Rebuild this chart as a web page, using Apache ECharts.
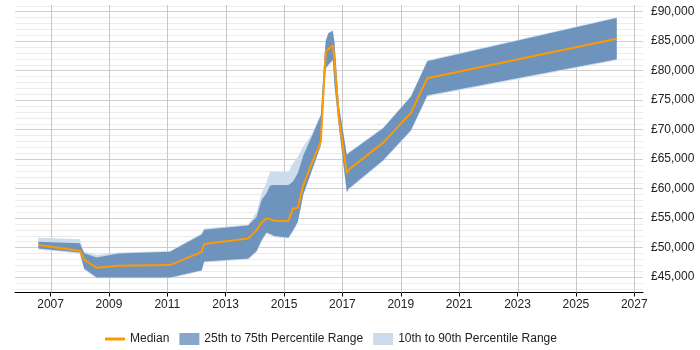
<!DOCTYPE html>
<html>
<head>
<meta charset="utf-8">
<script src="https://cdn.jsdelivr.net/npm/echarts@6/dist/echarts.min.js"></script>
<style>
  html, body { margin: 0; padding: 0; background: #fff; }
  #chart { width: 700px; height: 350px; }
</style>
</head>
<body>
<div id="chart"></div>
<script>
// sample dates (decimal years)
const years = [2006.58, 2008.00, 2008.15, 2008.58, 2009.32, 2011.09, 2012.18, 2012.26, 2013.77, 2014.06,
  2014.23, 2014.40, 2014.52, 2014.67, 2015.15, 2015.30, 2015.47, 2015.66, 2015.95, 2016.26,
  2016.38, 2016.43, 2016.52, 2016.67, 2016.73, 2016.88, 2017.15, 2017.22, 2018.40, 2019.35,
  2019.91, 2026.40];
const median = [50390, 49420, 47900, 46540, 46880, 47000, 49250, 50560, 51500, 52930,
  54200, 54920, 54800, 54470, 54470, 56550, 56730, 60580, 64260, 67930,
  79000, 83200, 83600, 84300, 81500, 71800, 62560, 63200, 67760, 72850,
  78690, 85360];
const p25 = [49830, 49150, 46400, 44900, 44900, 44900, 46140, 47600, 48130, 49400,
  51235, 52540, 52300, 51910, 51690, 52800, 54340, 59000, 63000, 67300,
  77500, 80400, 81000, 81800, 77500, 70400, 59440, 60000, 64820, 69910,
  75800, 81920];
const p75 = [50950, 50680, 49000, 48300, 48980, 49250, 52200, 53000, 53700, 55200,
  58030, 59165, 60500, 60570, 60570, 61130, 62560, 65600, 68800, 72400,
  82000, 85000, 86330, 86700, 84600, 74000, 65670, 66000, 70200, 75570,
  81570, 88880];
const p10 = [49650, 48980, 46200, 44750, 44750, 44750, 46000, 47450, 47950, 49200,
  50900, 52300, 52100, 51700, 51500, 52600, 54100, 58800, 62900, 67100,
  77300, 80200, 80800, 81600, 77300, 70200, 59200, 59800, 64600, 69700,
  75600, 81750];
const p90 = [51630, 51400, 49300, 48700, 49150, 49400, 52400, 53200, 53900, 56000,
  59165, 61000, 62830, 62830, 62830, 64200, 65380, 67100, 69200, 72600,
  82150, 85150, 86450, 86850, 84750, 74150, 65820, 66150, 70350, 75720,
  81720, 89030];

const xTicks = [2007, 2009, 2011, 2013, 2015, 2017, 2019, 2021, 2023, 2025, 2027];
const yTicks = [45000, 50000, 55000, 60000, 65000, 70000, 75000, 80000, 85000, 90000];

const X_MIN = 2005.78, X_MAX = 2027.3, Y_MIN = 42350, Y_MAX = 91100;

// minor grid every 1000
const yGrid = [];
for (let v = 43000; v <= 91000; v += 1000) yGrid.push(v);

const chart = echarts.init(document.getElementById('chart'));

// background grid lines, positioned with api.coord
function renderGrid(params, api) {
  if (params.dataIndex !== 0) return;
  const cs = params.coordSys;
  const children = [];
  yGrid.forEach(function (v) {
    const y = Math.round(api.coord([X_MIN, v])[1]) + 0.5;
    children.push({
      type: 'line',
      shape: { x1: cs.x, y1: y, x2: cs.x + cs.width, y2: y },
      style: { stroke: v % 5000 === 0 ? '#d0d0d0' : '#ebebeb', lineWidth: 1 }
    });
  });
  xTicks.forEach(function (t) {
    const x = Math.round(api.coord([t, Y_MIN])[0]) + 0.5;
    children.push({
      type: 'line',
      shape: { x1: x, y1: cs.y, x2: x, y2: cs.y + cs.height },
      style: { stroke: '#c8c8c8', lineWidth: 1 }
    });
  });
  return { type: 'group', children: children };
}

// band polygon between lo and hi
function bandRenderer(lo, hi, fill) {
  return function (params, api) {
    if (params.dataIndex !== 0) return;
    const pts = [];
    for (let i = 0; i < years.length; i++) pts.push(api.coord([years[i], hi[i]]));
    for (let i = years.length - 1; i >= 0; i--) pts.push(api.coord([years[i], lo[i]]));
    return { type: 'polygon', shape: { points: pts }, style: { fill: fill } };
  };
}

const option = {
  animation: false,
  textStyle: { fontFamily: 'Liberation Sans, Arial, sans-serif' },
  grid: { left: 15, right: 57, top: 5, bottom: 57.5 },
  xAxis: {
    type: 'value',
    min: X_MIN,
    max: X_MAX,
    axisLine: { show: true, lineStyle: { color: '#000', width: 1 } },
    axisTick: { show: true, length: 4, lineStyle: { color: '#000' }, customValues: xTicks },
    axisLabel: { customValues: xTicks, color: '#222', fontSize: 12, margin: 6, formatter: (v) => String(v) },
    splitLine: { show: false }
  },
  yAxis: {
    type: 'value',
    position: 'right',
    min: Y_MIN,
    max: Y_MAX,
    axisLine: { show: false },
    axisTick: { show: false },
    axisLabel: {
      customValues: yTicks, color: '#222', fontSize: 12, margin: 8,
      formatter: (v) => '£' + v.toLocaleString('en-GB')
    },
    splitLine: { show: false }
  },
  legend: {
    left: 100,
    top: 328,
    itemWidth: 20,
    itemHeight: 12,
    itemGap: 10,
    textStyle: { color: '#222', fontSize: 12 },
    data: [
      { name: 'Median', icon: 'path://M0,0L20,0L20,3L0,3Z' },
      { name: '25th to 75th Percentile Range', icon: 'rect' },
      { name: '10th to 90th Percentile Range', icon: 'rect' }
    ]
  },
  series: [
    {
      name: 'grid', type: 'custom', z: 1, silent: true,
      data: [[X_MIN, Y_MIN]], renderItem: renderGrid
    },
    {
      name: '10th to 90th Percentile Range', type: 'custom', z: 2, silent: true,
      itemStyle: { color: '#cddcec' },
      data: years.map((x, i) => [x, p10[i], p90[i]]),
      encode: { x: 0, y: [1, 2] },
      renderItem: bandRenderer(p10, p90, '#cddcec')
    },
    {
      name: '25th to 75th Percentile Range', type: 'custom', z: 3, silent: true,
      itemStyle: { color: '#88a6c8' },
      data: years.map((x, i) => [x, p25[i], p75[i]]),
      encode: { x: 0, y: [1, 2] },
      renderItem: bandRenderer(p25, p75, '#6e93bc')
    },
    {
      name: 'Median', type: 'line', z: 4,
      data: years.map((x, i) => [x, median[i]]),
      symbol: 'none',
      itemStyle: { color: '#ff9900' },
      lineStyle: { color: '#ff9900', width: 2 }
    }
  ]
};
chart.setOption(option);
</script>
</body>
</html>
